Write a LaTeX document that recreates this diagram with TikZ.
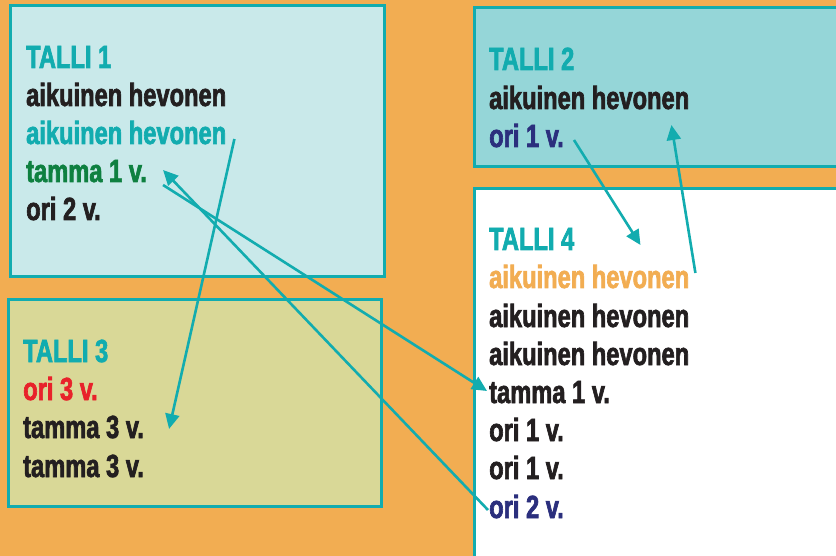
\documentclass[tikz,border=0pt]{standalone}
\usepackage{fontspec}
\setmainfont{Liberation Sans Bold}[FakeStretch=0.74,FakeBold=2]
\usetikzlibrary{arrows.meta}
\definecolor{oranssi}{HTML}{F2AD52}
\definecolor{turkoosi}{HTML}{12ACAF}
\definecolor{talliA}{HTML}{C9E9EA}
\definecolor{talliB}{HTML}{95D6D8}
\definecolor{talliC}{HTML}{D9D897}
\definecolor{musta}{HTML}{231F20}
\definecolor{sininen}{HTML}{2B2F7D}
\definecolor{vihrea}{HTML}{0E8040}
\definecolor{punainen}{HTML}{E8222A}
\begin{document}
\begin{tikzpicture}[x=1pt,y=-1pt,
	laatikko/.style={draw=turkoosi,line width=3pt,anchor=north west,inner sep=0pt},
	rivi/.style={anchor=base west,inner sep=0pt,text=musta,font=\fontsize{32}{38}\selectfont},
	nuoli/.style={draw=turkoosi,line width=2.6pt,-{Triangle[length=15pt,width=14pt]}}]
		\fill[oranssi] (0,0) rectangle (836,556);
		\clip (0,0) rectangle (836,556);
		\node[laatikko,fill=talliA,minimum width=374pt,minimum height=271pt] (L1) at (9,4) {};
		\node[laatikko,fill=talliB,minimum width=380pt,minimum height=159pt] (L2) at (473,6) {};
		\node[laatikko,fill=talliC,minimum width=373pt,minimum height=207pt] (L3) at (7,298) {};
		\node[laatikko,fill=white,minimum width=380pt,minimum height=390pt] (L4) at (473,187) {};
		
		\node[rivi,text=turkoosi] (t1a) at (26,68) {TALLI 1};
		\node[rivi] (t1b) at (26,106) {aikuinen hevonen};
		\node[rivi,text=turkoosi] (t1c) at (26,144) {aikuinen hevonen};
		\node[rivi,text=vihrea] (t1d) at (26,182) {tamma 1 v.};
		\node[rivi] (t1e) at (26,220) {ori 2 v.};
		
		\node[rivi,text=turkoosi] (t2a) at (489,70) {TALLI 2};
		\node[rivi] (t2b) at (489,109) {aikuinen hevonen};
		\node[rivi,text=sininen] (t2c) at (489,147) {ori 1 v.};
		
		\node[rivi,text=turkoosi] (t3a) at (23,362) {TALLI 3};
		\node[rivi,text=punainen] (t3b) at (23,400) {ori 3 v.};
		\node[rivi] (t3c) at (23,438) {tamma 3 v.};
		\node[rivi] (t3d) at (23,477) {tamma 3 v.};
		
		\node[rivi,text=turkoosi] (t4a) at (489,250) {TALLI 4};
		\node[rivi,text=oranssi] (t4b) at (489,288) {aikuinen hevonen};
		\node[rivi] (t4c) at (489,327) {aikuinen hevonen};
		\node[rivi] (t4d) at (489,365) {aikuinen hevonen};
		\node[rivi] (t4e) at (489,403) {tamma 1 v.};
		\node[rivi] (t4f) at (489,441) {ori 1 v.};
		\node[rivi] (t4g) at (489,479) {ori 1 v.};
		\node[rivi,text=sininen] (t4h) at (489,518) {ori 2 v.};
		
		%\foreach ... siirrot
		\draw[nuoli] ([shift={(8,-5)}]t1c.base east) -- ([shift={(25,-9)}]t3c.base east);
		\draw[nuoli] ([shift={(16,3)}]t1d.base east) -- ([shift={(-2,-12)}]t4e.base west);
		\draw[nuoli] ([shift={(-1,-8)}]t4h.base west) -- ([shift={(16,-12)}]t1d.base east);
		\draw[nuoli] ([shift={(10,-7)}]t2c.base east) -- ([shift={(66,-5)}]t4a.base east);
		\draw[nuoli] ([shift={(6,-15)}]t4b.base east) -- ([shift={(-18,16)}]t2b.base east);
		\end{tikzpicture}
\end{document}
